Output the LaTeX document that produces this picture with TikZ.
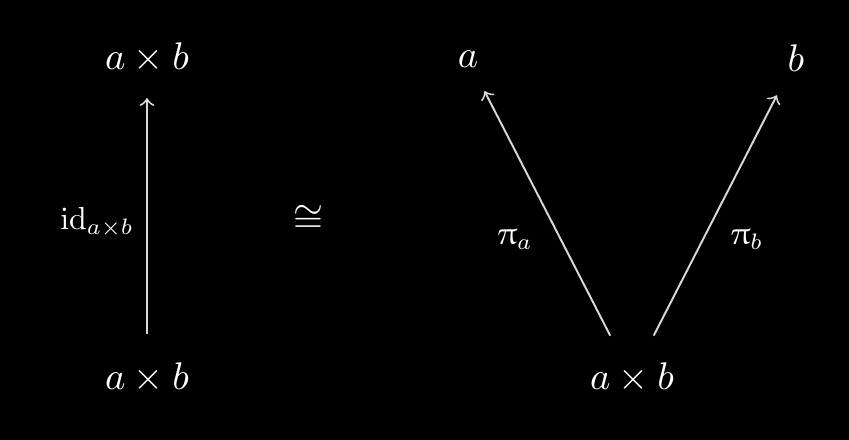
\documentclass[tikz,border=0pt]{standalone}
\usepackage{amsfonts, amsmath, amssymb}
\usepackage{upgreek}
\usepackage{tikz}

\tikzset{
  obj/.style = {text = white},
  mor/.style = {draw = white!85!black, line width = 0.5pt, ->, shorten > = 3pt, shorten < = 4pt},
  lab/.style = {text = white, scale = 0.83}
}

\begin{document}
\begin{tikzpicture}[x = 0.2597pt, y = -0.2597pt]
\fill[black] (0,0) rectangle (849,440);

\node[obj] (top) at (147,58) {$a \times b$};
\node[obj] (bot) at (147,378) {$a \times b$};
\node[obj] (iso) at (308,219) {$\cong$};

\node[obj] (a) at (468,59) {$a$};
\node[obj] (b) at (796,58) {$b$};
\node[obj] (prod) at (632,378) {$a \times b$};

\draw[mor] (bot) -- (top);
\draw[mor] (prod) -- (a);
\draw[mor] (prod) -- (b);

\node[lab] (id) at (97,222) {$\mathrm{id}_{a \times b}$};
\node[lab] (pia) at (515,240) {$\uppi_a$};
\node[lab] (pib) at (747,240) {$\uppi_b$};
\end{tikzpicture}
\end{document}
